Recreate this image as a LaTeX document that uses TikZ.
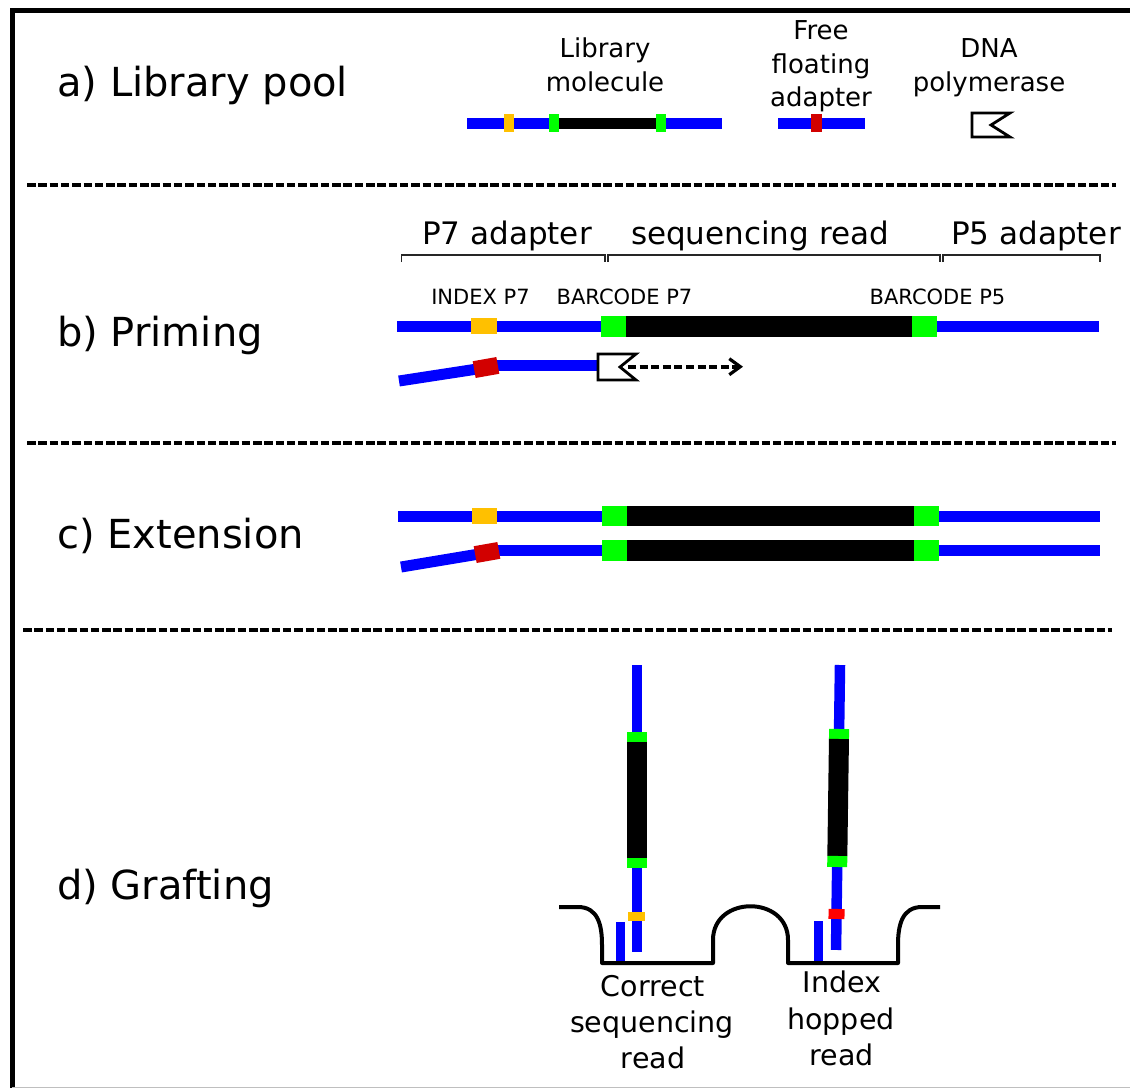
\documentclass[tikz,border=0pt]{standalone}
\usepackage{fontspec}
\setmainfont{DejaVu Sans}
\usetikzlibrary{arrows.meta}
\definecolor{dnablue}{RGB}{0,0,255}
\definecolor{dnagreen}{RGB}{0,255,0}
\definecolor{dnayellow}{RGB}{255,192,0}
\definecolor{dnared}{RGB}{210,0,0}
\begin{document}
\begin{tikzpicture}[x=1pt,y=-1pt,
  blueline/.style={line width=11pt, draw=dnablue},
  blackline/.style={line width=11pt, draw=black},
  sep/.style={line width=4pt, dash pattern=on 8.5pt off 2.8pt},
  bracket/.style={line width=1.6pt, draw=black!85},
  polym/.style={line width=2.8pt, draw=black, fill=white, line join=miter},
  surface/.style={line width=4pt, draw=black, line join=round},
  big/.style={font=\fontsize{40}{48}\selectfont, anchor=base west, inner sep=0pt},
  mid/.style={font=\fontsize{31}{37}\selectfont, anchor=base, inner sep=0pt},
  lab/.style={font=\fontsize{26}{33}\selectfont, anchor=base, inner sep=0pt},
  small/.style={font=\fontsize{21}{25}\selectfont, anchor=base, inner sep=0pt},
  dlab/.style={font=\fontsize{28.5}{36}\selectfont, anchor=base, inner sep=0pt}
]
\useasboundingbox (0,0) rectangle (1130,1088);
% frame
\draw[line width=5pt] (12.2,1088) -- (12.2,10.4) -- (1130,10.4);
\draw[line width=1.2pt, draw=black!25] (12,1087.4) -- (1130,1087.4);

% ---------- a) ----------
\node[big] (ta) at (57,96) {a) Library pool};
\node[lab] (lib1) at (605,57) {Library};
\node[lab] (lib2) at (605,91) {molecule};
\node[lab] (ff1) at (821,39) {Free};
\node[lab] (ff2) at (821,73) {floating};
\node[lab] (ff3) at (821,106) {adapter};
\node[lab] (dp1) at (989,57) {DNA};
\node[lab] (dp2) at (989,91) {polymerase};

\draw[blueline] (467,123) -- (722,123);
\draw[blackline] (559,123) -- (656,123);
\fill[dnayellow] (504,114) rectangle (514,132);
\fill[dnagreen] (549,114) rectangle (559,132);
\fill[dnagreen] (656,114) rectangle (666,132);

\draw[blueline] (778,123) -- (865,123);
\fill[dnared] (811,114) rectangle (822,132);

\draw[polym] (972,113) -- (1010,113) -- (991,125) -- (1010,137) -- (972,137) -- cycle;

\draw[sep] (27,185) -- (1116,185);

% ---------- b) ----------
\node[big] (tb) at (57,346) {b) Priming};
\node[mid] (p7) at (507,244) {P7 adapter};
\node[mid] (sr) at (760,244) {sequencing read};
\node[mid] (p5) at (1036,244) {P5 adapter};
\draw[bracket] (401.5,262) -- (401.5,255) -- (605,255) -- (605,262);
\draw[bracket] (608,262) -- (608,255) -- (940,255) -- (940,262);
\draw[bracket] (943,262) -- (943,255) -- (1100,255) -- (1100,262);
\node[small] (ix7) at (480.5,304) {INDEX P7};
\node[small] (bc7) at (624.5,304) {BARCODE P7};
\node[small] (bc5) at (937.5,304) {BARCODE P5};

\draw[blueline] (397,326) -- (1099,326);
\fill[dnayellow] (471,318) rectangle (497,334);
\fill[black] (626,315.5) rectangle (912,336.5);
\fill[dnagreen] (601,315.5) rectangle (626,336.5);
\fill[dnagreen] (912,315.5) rectangle (937,336.5);

\draw[blueline] (399,381) -- (487,367.5);
\draw[blueline] (487,365) -- (599,365);
\fill[dnared, rotate around={10:(486,367.5)}] (474,359) rectangle (498,376);
\draw[polym] (598,354) -- (636,354) -- (620,367) -- (636,380) -- (598,380) -- cycle;
\coordinate (arrs) at (628,366.7);
\coordinate (arre) at (743,366.7);
\draw[line width=4pt, dash pattern=on 8pt off 3.6pt, -{Straight Barb[length=11pt,width=16pt,line width=3.2pt]}] (arrs) -- (arre);

\draw[sep] (27,443) -- (1116,443);

% ---------- c) ----------
\node[big] (tc) at (57,548) {c) Extension};
\draw[blueline] (398,516) -- (1100,516);
\fill[dnayellow] (472,508) rectangle (497,524);
\fill[black] (627,506) rectangle (914,526);
\fill[dnagreen] (602,506) rectangle (627,526);
\fill[dnagreen] (914,506) rectangle (939,526);

\draw[blueline] (401,567) -- (488,552.5);
\draw[blueline] (487,550) -- (1100,550);
\fill[black] (627,540) rectangle (914,561);
\fill[dnagreen] (602,540) rectangle (627,561);
\fill[dnagreen] (914,540) rectangle (939,561);
\fill[dnared, rotate around={10:(487,552.5)}] (475,544) rectangle (499,561);

\draw[sep] (23,630) -- (1112,630);

% ---------- d) ----------
\node[big] (td) at (57,899) {d) Grafting};

% correct read
\draw[line width=10.5pt, draw=dnablue] (637,665) -- (637,952);
\fill[dnagreen] (627,732) rectangle (647,742);
\fill[black] (627,742) rectangle (647,858);
\fill[dnagreen] (627,858) rectangle (647,868);
\fill[dnayellow] (628,912) rectangle (645,921);
\draw[line width=9pt, draw=dnablue] (620.5,922) -- (620.5,962);

% index hopped read
\begin{scope}[shift={(840,665)}, rotate=-0.8]
\draw[line width=10.5pt, draw=dnablue] (0,0) -- (0,285);
\fill[dnagreen] (-10,64) rectangle (10,74);
\fill[black] (-10,74) rectangle (10,191);
\fill[dnagreen] (-10,191) rectangle (10,202);
\fill[red] (-8,244) rectangle (8,254);
\end{scope}
\draw[line width=9pt, draw=dnablue] (818.5,921) -- (818.5,962);

% flow cell surface
\draw[surface] (559,907) -- (578,907) .. controls (598,907) and (602,925) .. (602,945) -- (602,963) -- (713,963) -- (713,940) .. controls (713,895) and (788,895) .. (788,940) -- (788,963) -- (898,963) -- (898,945) .. controls (898,925) and (902,907) .. (922,907) -- (940,907);

\node[dlab] (cr1) at (653,996) {Correct};
\node[dlab] (cr2) at (652,1032.5) {sequencing};
\node[dlab] (cr3) at (653,1068) {read};
\node[dlab] (ih1) at (842,992.5) {Index};
\node[dlab] (ih2) at (841,1029) {hopped};
\node[dlab] (ih3) at (841.5,1065) {read};
\end{tikzpicture}
\end{document}
